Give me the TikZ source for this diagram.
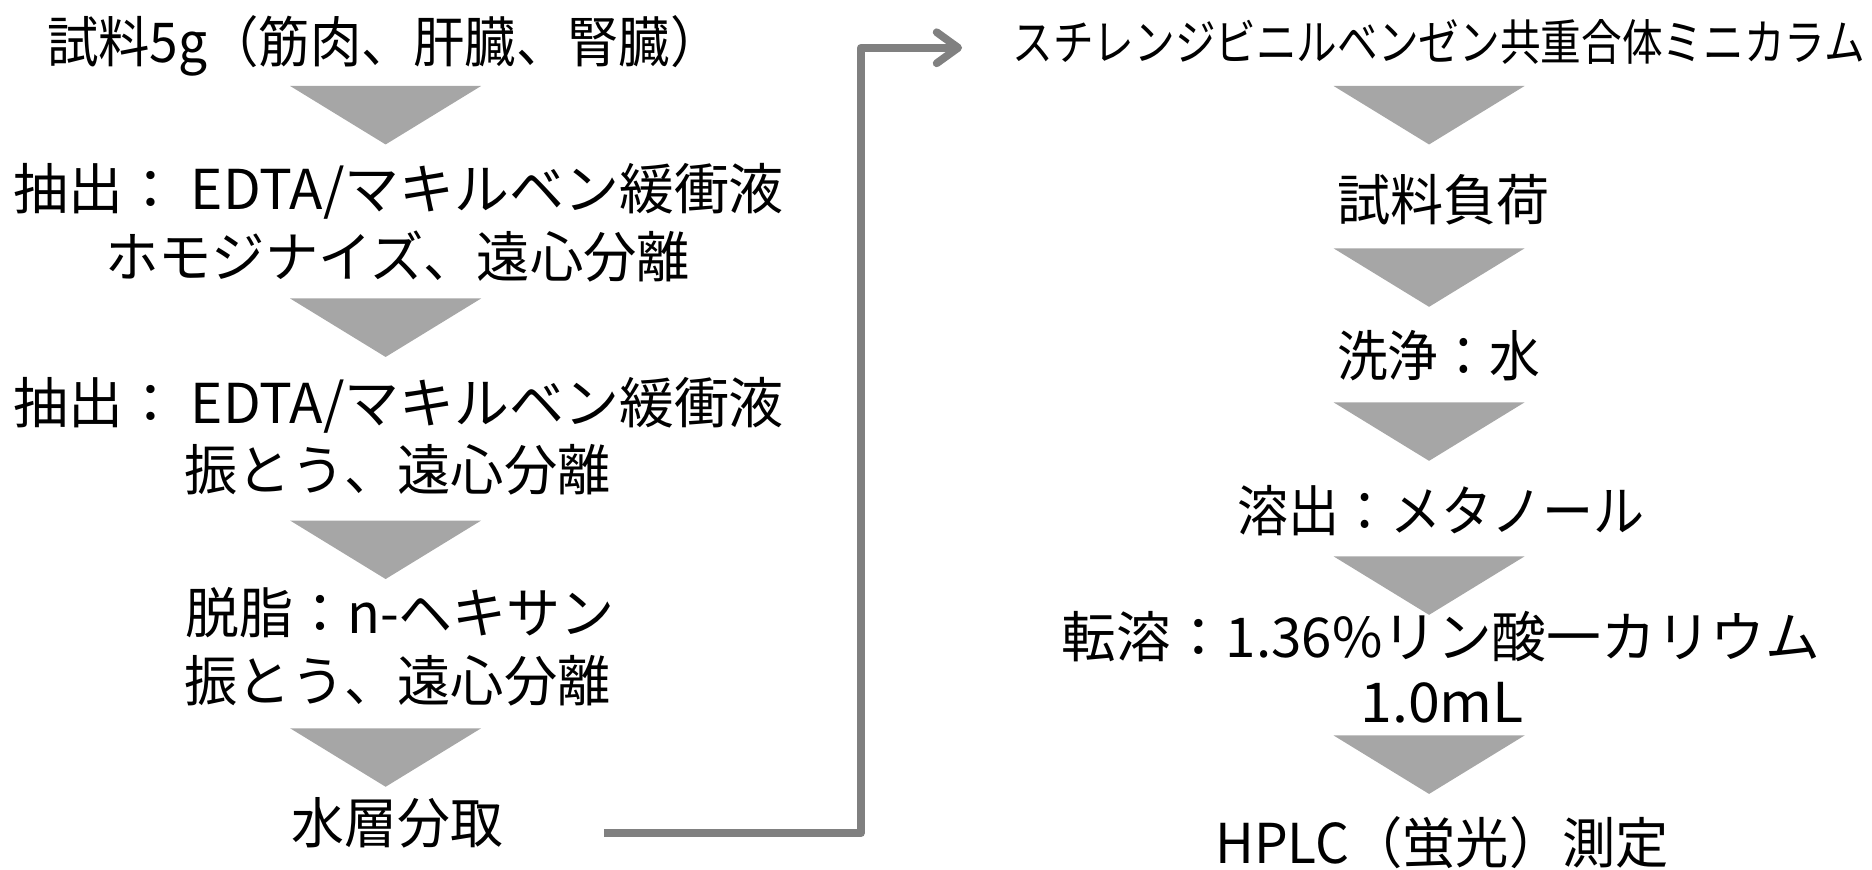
\documentclass[tikz,border=0pt]{standalone}
\usepackage{fontspec}
\usepackage{graphicx}
\setmainfont{Noto Sans CJK JP}
\usetikzlibrary{arrows.meta}
\definecolor{trigray}{HTML}{A6A6A6}
\definecolor{conngray}{HTML}{808080}
\newcommand{\fw}[2]{\resizebox{#1pt}{\height}{#2}}
\newcommand{\tridown}[2]{\fill[trifill] ({#1-80},#2) -- ({#1+80},#2) -- (#1,{#2+49}) -- cycle;}
\begin{document}
\begin{tikzpicture}[x=1pt,y=-1pt,
  lbl/.style={inner sep=0pt, font=\fontsize{46}{54}\selectfont, text height=37pt, text depth=2pt},
  ttl/.style={inner sep=0pt, font=\fontsize{41}{48}\selectfont, text height=33pt, text depth=2pt},
  trifill/.style={fill=trigray},
  conn/.style={draw=conngray, line width=6.5pt, line join=round,
    -{Straight Barb[length=18pt,width=26pt,line width=6.5pt,round]}}]
\useasboundingbox (0,0) rectangle (1568,728);
% left column
\node[lbl] (l1) at (322,35) {\fw{565}{試料5g（筋肉、肝臓、腎臓）}};
\tridown{323}{72}
\node[lbl] (l2) at (334,158) {\fw{645}{抽出： EDTA/マキルベン緩衝液}};
\node[lbl] (l3) at (333,215) {\fw{490}{ホモジナイズ、遠心分離}};
\tridown{323}{250}
\node[lbl] (l4) at (334,337) {\fw{645}{抽出： EDTA/マキルベン緩衝液}};
\node[lbl] (l5) at (333,393) {\fw{357}{振とう、遠心分離}};
\tridown{323}{436}
\node[lbl] (l6) at (335,513) {\fw{360}{脱脂：n-ヘキサン}};
\node[lbl] (l7) at (333,570) {\fw{357}{振とう、遠心分離}};
\tridown{323}{610}
\node[lbl] (l8) at (333,689) {\fw{177}{水層分取}};
% right column
\node[ttl] (r1) at (1205,35) {\fw{714}{スチレンジビニルベンゼン共重合体ミニカラム}};
\tridown{1197}{72}
\node[lbl] (r2) at (1209,167) {\fw{178}{試料負荷}};
\tridown{1197}{208}
\node[lbl] (r3) at (1205,298) {\fw{170}{洗浄：水}};
\tridown{1197}{337}
\node[lbl] (r4) at (1207,428) {\fw{341}{溶出：メタノール}};
\tridown{1197}{466}
\node[lbl] (r5) at (1207,533) {\fw{635}{転溶：1.36\%リン酸一カリウム}};
\node[lbl] (r6) at (1208,588) {\fw{137}{1.0mL}};
\tridown{1197}{616}
\node[lbl] (r7) at (1208,706) {\fw{380}{HPLC（蛍光）測定}};
% connector
\coordinate (cs) at ([xshift=84pt]l8.east |- 0,698);
\coordinate (ce) at ([xshift=-42pt]r1.west |- 0,40);
\draw[conn] (cs) -- (721,698) |- (ce);
\end{tikzpicture}
\end{document}
